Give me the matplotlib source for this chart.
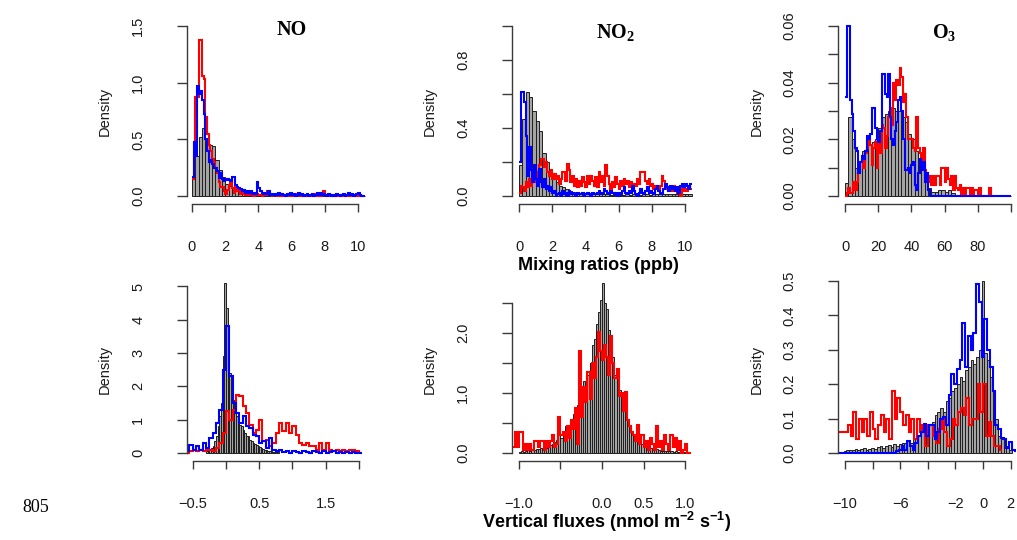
import numpy as np
import matplotlib
matplotlib.use('Agg')
import matplotlib.pyplot as plt

plt.rcParams['font.family'] = 'Liberation Sans'
plt.rcParams['mathtext.fontset'] = 'custom'
plt.rcParams['mathtext.rm'] = 'Liberation Serif:bold'
plt.rcParams['mathtext.sf'] = 'Liberation Sans:bold'

# ---- mixing ratios (ppb) ----
# NO: gray bins 0.2 from 0, lines bins 0.1 from 0
no_mix_gray = [0.18, 0.35, 0.52, 0.60, 0.46, 0.45, 0.44, 0.32, 0.23, 0.17,
               0.11, 0.09, 0.07, 0.05, 0.05, 0.04, 0.03, 0.03, 0.02, 0.02,
               0.02, 0.015, 0.015, 0.01, 0.01, 0.01, 0.01, 0.008, 0.008, 0.008,
               0.006, 0.006, 0.006, 0.005, 0.005, 0.005, 0.004, 0.004, 0.004, 0.004,
               0.003, 0.003, 0.003, 0.003, 0.003, 0.002, 0.002, 0.002, 0.002, 0.002,
               0.002, 0.002]
no_mix_red = [0.15, 0.35, 0.87, 0.87, 1.38, 1.38, 1.06, 1.03, 0.70, 0.55,
              0.45, 0.40, 0.33, 0.30, 0.25, 0.20, 0.12, 0.08, 0.08, 0.04,
              0.02, 0.05, 0.10, 0.12, 0.07, 0.03, 0.08, 0.04, 0.05, 0.02,
              0.04, 0.02, 0.01, 0.03, 0.01, 0.02, 0.01, 0.00, 0.01, 0.02,
              0.01, 0.01, 0.00, 0.02, 0.01, 0.04, 0.03, 0.01, 0.00, 0.01,
              0.01, 0.00, 0.01, 0.00, 0.02, 0.00, 0.01, 0.00, 0.00, 0.01,
              0.00, 0.01, 0.00, 0.02, 0.00, 0.00, 0.01, 0.00, 0.01, 0.00,
              0.00, 0.01, 0.00, 0.00, 0.02, 0.00, 0.01, 0.00, 0.03, 0.04,
              0.01, 0.00, 0.00, 0.01, 0.00, 0.00, 0.01, 0.00, 0.00, 0.00,
              0.01, 0.00, 0.00, 0.01, 0.00, 0.00, 0.00, 0.01, 0.00, 0.00,
              0.00, 0.01, 0.00, 0.00]
no_mix_blue = [0.17, 0.48, 0.35, 0.97, 0.90, 0.93, 0.85, 0.72, 0.50, 0.40,
               0.30, 0.32, 0.28, 0.25, 0.25, 0.22, 0.16, 0.20, 0.15, 0.13,
               0.14, 0.15, 0.14, 0.13, 0.17, 0.17, 0.10, 0.08, 0.07, 0.06,
               0.04, 0.05, 0.03, 0.04, 0.03, 0.04, 0.02, 0.03, 0.02, 0.12,
               0.07, 0.04, 0.03, 0.02, 0.03, 0.02, 0.04, 0.01, 0.02, 0.01,
               0.02, 0.01, 0.03, 0.01, 0.02, 0.01, 0.00, 0.02, 0.01, 0.03,
               0.01, 0.02, 0.00, 0.01, 0.03, 0.01, 0.02, 0.00, 0.01, 0.02,
               0.00, 0.01, 0.02, 0.00, 0.01, 0.03, 0.01, 0.03, 0.01, 0.02,
               0.01, 0.00, 0.02, 0.01, 0.00, 0.01, 0.00, 0.02, 0.01, 0.00,
               0.01, 0.02, 0.00, 0.01, 0.03, 0.01, 0.02, 0.00, 0.01, 0.02,
               0.03, 0.01, 0.00, 0.00]

# NO2: gray bins 0.2 from 0, lines bins 0.1 from 0
no2_mix_gray = [0.18, 0.45, 0.61, 0.58, 0.50, 0.44, 0.38, 0.25, 0.20, 0.13,
                0.10, 0.08, 0.06, 0.05, 0.04, 0.03, 0.025, 0.02, 0.02, 0.015,
                0.015, 0.012, 0.012, 0.01, 0.01, 0.01, 0.01, 0.008, 0.008, 0.01,
                0.008, 0.008, 0.01, 0.008, 0.01, 0.008, 0.008, 0.01, 0.01, 0.008,
                0.01, 0.01, 0.012, 0.01, 0.012, 0.01, 0.012, 0.012, 0.01, 0.012,
                0.012, 0.01]
no2_mix_red = [0.02, 0.06, 0.05, 0.03, 0.08, 0.05, 0.10, 0.06, 0.12, 0.08,
               0.14, 0.10, 0.18, 0.22, 0.22, 0.17, 0.20, 0.14, 0.12, 0.15,
               0.10, 0.13, 0.10, 0.12, 0.07, 0.10, 0.14, 0.14, 0.09, 0.19,
               0.15, 0.08, 0.12, 0.06, 0.10, 0.05, 0.09, 0.06, 0.11, 0.08,
               0.05, 0.12, 0.07, 0.12, 0.09, 0.06, 0.11, 0.05, 0.14, 0.08,
               0.12, 0.06, 0.18, 0.12, 0.07, 0.04, 0.08, 0.05, 0.11, 0.07,
               0.04, 0.09, 0.06, 0.10, 0.07, 0.09, 0.05, 0.08, 0.04, 0.07,
               0.06, 0.10, 0.07, 0.14, 0.14, 0.14, 0.09, 0.07, 0.10, 0.06,
               0.07, 0.04, 0.06, 0.05, 0.04, 0.06, 0.12, 0.09, 0.05, 0.04,
               0.03, 0.05, 0.03, 0.06, 0.04, 0.02, 0.03, 0.00, 0.05, 0.03,
               0.04, 0.03, 0.05, 0.04]
no2_mix_blue = [0.20, 0.61, 0.61, 0.55, 0.35, 0.12, 0.29, 0.15, 0.08, 0.18,
                0.10, 0.06, 0.16, 0.08, 0.05, 0.10, 0.04, 0.06, 0.03, 0.05,
                0.02, 0.03, 0.00, 0.01, 0.02, 0.00, 0.03, 0.01, 0.02, 0.00,
                0.03, 0.01, 0.02, 0.01, 0.00, 0.02, 0.01, 0.01, 0.02, 0.00,
                0.01, 0.02, 0.01, 0.00, 0.02, 0.01, 0.01, 0.02, 0.03, 0.01,
                0.02, 0.04, 0.03, 0.02, 0.01, 0.03, 0.02, 0.01, 0.02, 0.00,
                0.02, 0.01, 0.03, 0.05, 0.02, 0.01, 0.03, 0.02, 0.06, 0.03,
                0.01, 0.00, 0.02, 0.04, 0.02, 0.01, 0.03, 0.05, 0.02, 0.03,
                0.02, 0.01, 0.04, 0.06, 0.03, 0.01, 0.02, 0.04, 0.07, 0.05,
                0.03, 0.06, 0.04, 0.05, 0.03, 0.05, 0.02, 0.06, 0.07, 0.05,
                0.07, 0.06, 0.04, 0.07]

# O3: gray bins 2 from 0, lines bins 1 from 0
o3_mix_gray = [0.0045, 0.028, 0.020, 0.010, 0.012, 0.016, 0.016, 0.018, 0.019, 0.020,
               0.024, 0.028, 0.029, 0.030, 0.031, 0.030, 0.030, 0.028, 0.026, 0.022,
               0.020, 0.016, 0.013, 0.010, 0.008, 0.003, 0.0015, 0.0015, 0.002, 0.002,
               0.0015, 0.002, 0.001, 0.0005, 0.0005, 0, 0, 0, 0, 0,
               0, 0, 0, 0, 0, 0, 0, 0, 0, 0]
o3_mix_red = [0.000, 0.001, 0.003, 0.001, 0.001, 0.005, 0.002, 0.005, 0.008, 0.012,
              0.013, 0.010, 0.015, 0.017, 0.020, 0.018, 0.011, 0.017, 0.019, 0.010,
              0.020, 0.015, 0.025, 0.024, 0.017, 0.021, 0.028, 0.031, 0.025, 0.040,
              0.034, 0.041, 0.039, 0.045, 0.042, 0.033, 0.036, 0.028, 0.020, 0.020,
              0.020, 0.017, 0.016, 0.028, 0.017, 0.015, 0.011, 0.017, 0.009, 0.007,
              0.005, 0.007, 0.004, 0.007, 0.004, 0.007, 0.007, 0.004, 0.010, 0.010,
              0.005, 0.010, 0.006, 0.004, 0.007, 0.002, 0.007, 0.003, 0.002, 0.004,
              0.000, 0.003, 0.000, 0.003, 0.003, 0.000, 0.003, 0.000, 0.002, 0.002,
              0.000, 0.003, 0.000, 0.000, 0.000, 0.000, 0.000, 0.003, 0.000, 0.000]
o3_mix_blue = [0.035, 0.060, 0.060, 0.034, 0.029, 0.023, 0.017, 0.016, 0.008, 0.012,
               0.014, 0.013, 0.016, 0.021, 0.020, 0.022, 0.031, 0.031, 0.024, 0.020,
               0.019, 0.023, 0.043, 0.043, 0.036, 0.035, 0.043, 0.028, 0.020, 0.018,
               0.023, 0.026, 0.034, 0.035, 0.030, 0.020, 0.009, 0.009, 0.010, 0.008,
               0.011, 0.012, 0.004, 0.002, 0.008, 0.013, 0.009, 0.012, 0.005, 0.008,
               0.002, 0, 0, 0, 0, 0, 0, 0, 0, 0,
               0, 0, 0, 0, 0, 0, 0, 0, 0, 0,
               0, 0, 0, 0, 0, 0, 0, 0, 0, 0,
               0, 0, 0, 0, 0, 0, 0, 0, 0, 0,
               0, 0, 0, 0, 0, 0, 0, 0, 0, 0]

# ---- vertical fluxes (nmol m-2 s-1) ----
# NO: gray bins 0.025 from -0.3, lines bins 0.05 from -0.6
no_flux_gray = [0.05, 0.08, 0.10, 0.15, 0.22, 0.35, 0.50, 0.80, 1.10, 1.50, 2.90, 5.10,
                4.35, 3.75, 2.40, 2.20, 1.60, 1.30, 1.10, 1.00,
                0.85, 0.80, 0.70, 0.60, 0.50, 0.50, 0.40, 0.35,
                0.30, 0.28, 0.25, 0.20, 0.18, 0.15, 0.12, 0.10,
                0.08, 0.07, 0.06, 0.05, 0.04, 0.03, 0.03, 0.02]
no_flux_red = [0.00, 0.05, 0.10, 0.05, 0.10, 0.05, 0.10, 0.10, 0.05, 0.15, 0.30, 0.60,
               1.25, 1.00, 1.30, 1.75, 1.70, 1.40, 1.20, 0.85, 0.60, 0.70,
               1.00, 0.35, 0.40, 0.20, 0.30, 0.60, 0.90, 0.65, 0.90, 0.60,
               0.80, 0.55, 0.30, 0.25, 0.30, 0.20, 0.20, 0.10, 0.30, 0.10,
               0.30, 0.10, 0.05, 0.10, 0.05, 0.10, 0.05, 0.10, 0.10, 0.05, 0.00]
no_flux_blue = [0.05, 0.25, 0.10, 0.20, 0.10, 0.30, 0.15, 0.45, 0.60, 0.90, 1.30, 2.50,
                3.80, 2.30, 1.50, 1.20, 0.90, 1.10, 0.80, 0.75, 0.55, 0.50,
                0.30, 0.35, 0.15, 0.45, 0.10, 0.05, 0.10, 0.02, 0.05, 0.00,
                0.05, 0.02, 0.00, 0.05, 0.02, 0.00, 0.05, 0.02, 0.00, 0.05,
                0.00, 0.02, 0.05, 0.00, 0.03, 0.00, 0.02, 0.00, 0.02, 0.00, 0.00]

# NO2: gray bins 0.025 from -1.0, red bins 0.025 from -1.075
no2_flux_gray = [0.02, 0.03, 0.02, 0.04, 0.05, 0.03, 0.06, 0.05, 0.07, 0.06, 0.08, 0.07, 0.10, 0.09, 0.12, 0.14,
                 0.15, 0.18, 0.22, 0.30, 0.25, 0.35, 0.45, 0.38,
                 0.45, 0.55, 0.65, 0.70, 0.80, 0.90, 1.00, 1.20,
                 1.10, 1.30, 1.50, 1.80, 1.90, 2.15, 2.35, 2.55,
                 2.83, 2.50, 2.40, 2.05, 1.75, 1.60, 1.30, 1.20,
                 1.05, 0.90, 0.80, 0.65, 0.50, 0.45, 0.35, 0.30,
                 0.25, 0.20, 0.20, 0.15, 0.12, 0.10, 0.10, 0.08,
                 0.07, 0.06, 0.06, 0.05, 0.04, 0.04, 0.03, 0.04,
                 0.03, 0.03, 0.02, 0.03, 0.02, 0.02, 0.02, 0.02]
no2_flux_red = [0.10, 0.35, 0.10, 0.35, 0.35, 0.05, 0.15, 0.05, 0.15, 0.05,
                0.20, 0.20, 0.10, 0.20, 0.20, 0.05, 0.20, 0.10, 0.20, 0.30,
                0.10, 0.15, 0.60, 0.30, 0.35, 0.20, 0.45, 0.25, 0.55, 0.40,
                0.75, 0.15, 1.70, 0.60, 1.10, 0.85, 1.35, 0.90, 1.50, 1.25,
                1.60, 2.02, 1.70,
                1.55, 1.80, 1.60, 1.30, 1.95, 1.50, 1.25, 1.40, 0.95, 1.00,
                0.70, 1.02, 0.55, 0.45, 0.35, 0.30, 0.20, 0.47, 0.15, 0.30,
                0.10, 0.20, 0.05, 0.25, 0.15, 0.05, 0.45, 0.10, 0.20, 0.05,
                0.30, 0.15, 0.05, 0.30, 0.10, 0.25, 0.05, 0.20, 0.00, 0.05,
                0.15, 0.00, 0.00]

# O3: gray bins 0.2 from -10.1, blue 0.2 from -10.5, red 0.2 from -10.6
o3_flux_gray = [0.005, 0.008, 0.010, 0.008, 0.012, 0.010, 0.012, 0.015, 0.010, 0.012,
                0.015, 0.012, 0.018, 0.020, 0.015, 0.020, 0.022, 0.018, 0.025, 0.020,
                0.025, 0.030, 0.028, 0.035, 0.030, 0.040, 0.045, 0.050, 0.060, 0.055,
                0.070, 0.080, 0.090, 0.110, 0.120, 0.130, 0.120, 0.150, 0.160, 0.180,
                0.190, 0.200, 0.220, 0.210, 0.240, 0.250, 0.270, 0.260, 0.280, 0.300,
                0.500,
                0.290, 0.270, 0.220, 0.140, 0.100, 0.050, 0.040, 0.020, 0.020, 0.010]
o3_flux_blue = [0, 0, 0, 0, 0, 0, 0, 0, 0, 0,
                0, 0, 0, 0, 0, 0, 0, 0, 0, 0,
                0.000, 0.005, 0.010, 0.020, 0.010,
                0.035, 0.020, 0.010, 0.030, 0.050,
                0.060, 0.085, 0.050, 0.080, 0.080,
                0.040, 0.060, 0.100, 0.105, 0.080,
                0.170, 0.230, 0.200, 0.245, 0.270,
                0.377, 0.250, 0.340, 0.300, 0.350,
                0.490, 0.440, 0.280, 0.390, 0.300,
                0.250, 0.180, 0.080, 0.070, 0.045,
                0.040, 0.015, 0.033, 0.010, 0.005]
o3_flux_red = [0.06, 0.06, 0.06, 0.06,
               0.08, 0.05, 0.12, 0.04, 0.10, 0.06, 0.10, 0.05, 0.12, 0.07,
               0.04, 0.08, 0.11, 0.06, 0.10, 0.04, 0.18, 0.10, 0.16, 0.12,
               0.08, 0.11, 0.06, 0.10, 0.04, 0.10, 0.06, 0.08, 0.02, 0.08,
               0.08, 0.05, 0.03, 0.07, 0.10, 0.06, 0.02, 0.04, 0.10, 0.08,
               0.12, 0.13, 0.11, 0.16, 0.08, 0.10, 0.10, 0.20, 0.12, 0.20,
               0.05, 0.09, 0.05, 0.02, 0.02, 0.01]

W, H = 1017, 540
fig = plt.figure(figsize=(W / 100, H / 100), dpi=100)
fig.patch.set_facecolor('white')

AX_COL = '#3a3a3a'


def make_ax(left, top, right, bottom):
    return fig.add_axes([left / W, 1 - bottom / H, (right - left) / W, (bottom - top) / H])


def draw(ax, gray, g0, gw, lines):
    lefts = g0 + gw * np.arange(len(gray))
    ax.bar(lefts, gray, width=gw, align='edge', color='#a4a4a4',
           edgecolor='#1e1e1e', linewidth=0.7, zorder=1)
    for vals, s0, w, col in lines:
        edges = s0 + w * np.arange(len(vals) + 1)
        ax.stairs(vals, edges, baseline=None, color=col, linewidth=1.5, zorder=2)


def style(ax, xlim, ylim, xt, xl, yt, yl):
    ax.set_xlim(xlim)
    ax.set_ylim(ylim)
    ax.patch.set_alpha(0)
    for s in ['top', 'right']:
        ax.spines[s].set_visible(False)
    for s in ['left', 'bottom']:
        ax.spines[s].set_color(AX_COL)
        ax.spines[s].set_linewidth(1.0)
    ax.spines['left'].set_bounds(yt[0], yt[-1])
    ax.spines['bottom'].set_bounds(xt[0], xt[-1])
    ax.set_xticks(xt)
    ax.set_xticklabels(xl)
    ax.set_yticks(yt)
    ax.set_yticklabels(yl, rotation=90, va='center')
    ax.tick_params(axis='x', length=6, width=1.0, color=AX_COL, pad=20,
                   labelsize=10.5, labelcolor='#1a1a1a')
    ax.tick_params(axis='y', length=7, width=1.0, color=AX_COL, pad=23,
                   labelsize=10.5, labelcolor='#1a1a1a')


RED = '#ff0000'
BLUE = '#0000ff'
M = '\u2212'

# top row
ax1 = make_ax(187, 20, 368, 204)
draw(ax1, no_mix_gray, 0.0, 0.2, [(no_mix_red, 0.0, 0.1, RED), (no_mix_blue, 0.0, 0.1, BLUE)])
style(ax1, (-0.301, 10.60), (-0.0706, 1.553),
      [0, 2, 4, 6, 8, 10], ['0', '2', '4', '6', '8', '10'],
      [0, 0.5, 1.0, 1.5], ['0.0', '0.5', '1.0', '1.5'])

ax2 = make_ax(512, 20, 693, 204)
draw(ax2, no2_mix_gray, 0.0, 0.2, [(no2_mix_red, 0.0, 0.1, RED), (no2_mix_blue, 0.0, 0.1, BLUE)])
style(ax2, (-0.422, 10.48), (-0.0471, 1.035),
      [0, 2, 4, 6, 8, 10], ['0', '2', '4', '6', '8', '10'],
      [0, 0.2, 0.4, 0.6, 0.8, 1.0], ['0.0', '', '0.4', '', '0.8', ''])

ax3 = make_ax(838, 20, 1016, 204)
draw(ax3, o3_mix_gray, 0.0, 2.0, [(o3_mix_red, 0.0, 1.0, RED), (o3_mix_blue, 0.0, 1.0, BLUE)])
style(ax3, (-4.22, 103.0), (-0.00282, 0.0621),
      [0, 20, 40, 60, 80, 100], ['0', '20', '40', '60', '80', ''],
      [0, 0.01, 0.02, 0.03, 0.04, 0.05, 0.06], ['0.00', '', '0.02', '', '0.04', '', '0.06'])

# bottom row
ax4 = make_ax(187, 280, 368, 461)
draw(ax4, no_flux_gray, -0.3, 0.025, [(no_flux_red, -0.6, 0.05, RED), (no_flux_blue, -0.6, 0.05, BLUE)])
style(ax4, (-0.587, 2.139), (-0.240, 5.195),
      [-0.5, 0, 0.5, 1.0, 1.5, 2.0], [M + '0.5', '', '0.5', '', '1.5', ''],
      [0, 1, 2, 3, 4, 5], ['0', '1', '2', '3', '4', '5'])

ax5 = make_ax(512, 280, 693, 461)
draw(ax5, no2_flux_gray, -1.0, 0.025, [(no2_flux_red, -1.075, 0.025, RED)])
style(ax5, (-1.084, 1.096), (-0.133, 2.883),
      [-1.0, -0.5, 0, 0.5, 1.0], [M + '1.0', '', '0.0', '0.5', '1.0'],
      [0, 0.5, 1.0, 1.5, 2.0, 2.5], ['0.0', '', '1.0', '', '2.0', ''])

ax6 = make_ax(838, 280, 1016, 461)
draw(ax6, o3_flux_gray, -10.1, 0.2, [(o3_flux_red, -10.6, 0.2, RED), (o3_flux_blue, -10.5, 0.2, BLUE)])
style(ax6, (-10.51, 2.39), (-0.0233, 0.503),
      [-10, -8, -6, -4, -2, 0, 2], [M + '10', '', M + '6', '', M + '2', '0', '2'],
      [0, 0.1, 0.2, 0.3, 0.4, 0.5], ['0.0', '0.1', '0.2', '0.3', '0.4', '0.5'])


def ftext(x, y, s, **kw):
    fig.text(x / W, 1 - y / H, s, ha='center', va='center', **kw)


for x in (105, 430, 757):
    for y in (111, 369):
        ftext(x, y, 'Density', rotation=90, fontsize=10.5, color='#1a1a1a')

title_kw = dict(fontfamily='Liberation Serif', fontweight='bold', fontsize=14.5)
ftext(292, 30, 'NO', **title_kw)
ftext(615, 33, r'NO$_\mathrm{2}$', **title_kw)
ftext(944, 33, r'O$_\mathrm{3}$', **title_kw)

ftext(598, 265, 'Mixing ratios (ppb)', fontsize=13, fontweight='bold')
ftext(607, 522, r'Vertical fluxes (nmol m$^{\mathsf{-2}}$ s$^{\mathsf{-1}}$)', fontsize=13, fontweight='bold')
ftext(36, 508, '805', fontfamily='Liberation Serif', fontsize=13)

fig.savefig('out.png', dpi=100)
